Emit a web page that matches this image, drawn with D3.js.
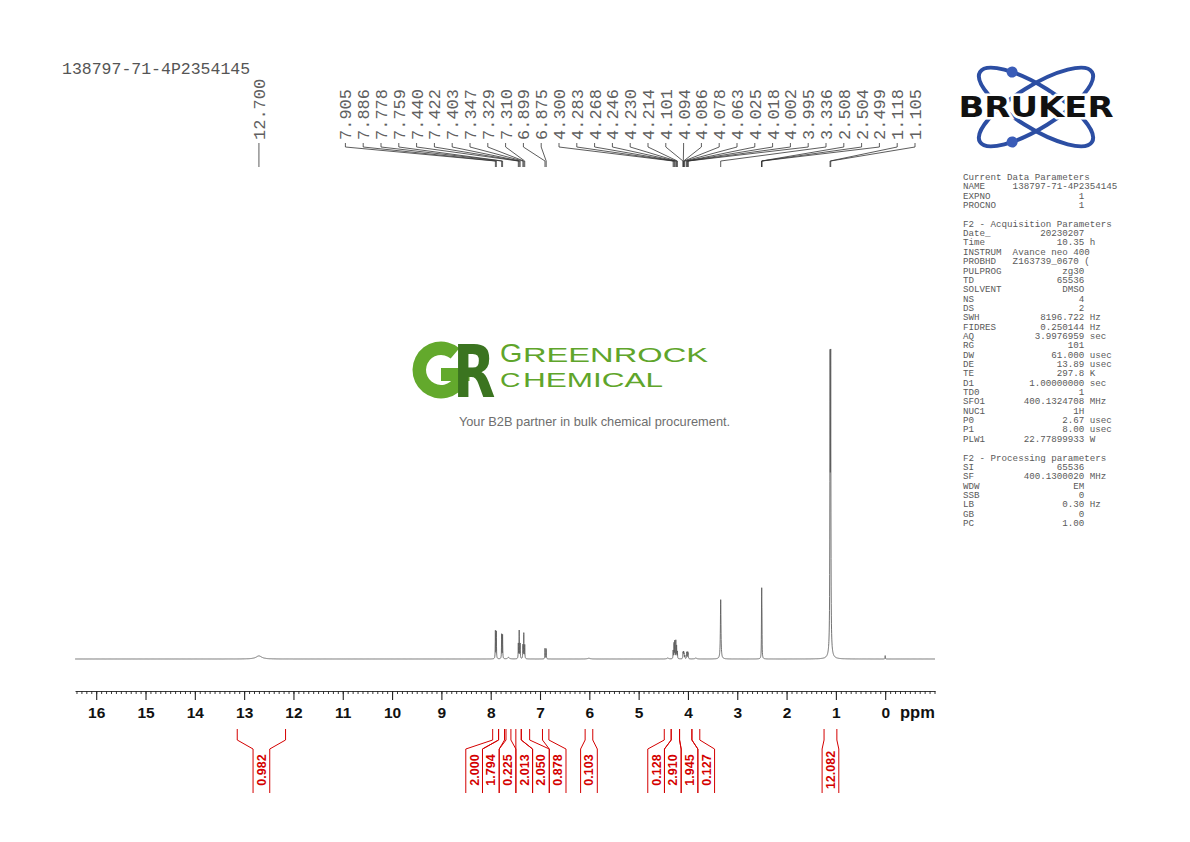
<!DOCTYPE html>
<html>
<head>
<meta charset="utf-8">
<script src="https://cdn.jsdelivr.net/npm/d3@7"></script>
<style>
  body { margin: 0; background: #fff; }
  svg { display: block; }
</style>
</head>
<body>
<div id="chart"></div>
<script>
let width = 1190;
let height = 842;

let sampleName = "138797-71-4P2354145";

// picked peaks (ppm), heights relative to the 1.1 ppm doublet (~100), half widths (ppm)
let peakShifts = [12.700, 7.905, 7.886, 7.778, 7.759, 7.440, 7.422, 7.403, 7.347, 7.329, 7.310, 6.899, 6.875,
                  4.300, 4.283, 4.268, 4.246, 4.230, 4.214, 4.101, 4.094, 4.086, 4.078, 4.063,
                  4.025, 4.018, 4.002, 3.995, 3.336, 2.508, 2.504, 2.499, 1.118, 1.105];
let peakHeights = [1.0, 9.0, 8.8, 7.9, 7.7, 4.8, 9.0, 4.8, 4.4, 8.2, 4.4, 3.4, 3.3,
                   2.6, 4.9, 5.6, 5.8, 4.1, 2.3, 1.6, 1.8, 1.8, 1.5, 1.1,
                   1.7, 1.9, 1.9, 1.5, 19.2, 10.5, 16.5, 10.5, 88, 88];
let peakWidths = [0.07, 0.0035, 0.0035, 0.0035, 0.0035, 0.0035, 0.0035, 0.0035, 0.0035, 0.0035, 0.0035, 0.0035, 0.0035,
                  0.0035, 0.0035, 0.0035, 0.0035, 0.0035, 0.0035, 0.0035, 0.0035, 0.0035, 0.0035, 0.0035,
                  0.0035, 0.0035, 0.0035, 0.0035, 0.007, 0.003, 0.003, 0.003, 0.0045, 0.0045];

// small unpicked signals
let minorShifts = [7.64, 6.01, 4.41, 3.84, 1.11, 0.00];
let minorHeights = [0.5, 0.25, 0.3, 0.3, 3.0, 1.1];
let minorWidths = [0.02, 0.03, 0.02, 0.02, 0.03, 0.003];

// integrals
let integralValues = ["0.982", "2.000", "1.794", "0.225", "2.013", "2.050", "0.878", "0.103",
                      "0.128", "2.910", "1.945", "0.127", "12.082"];
let integralFrom = [13.14, 7.96, 7.84, 7.69, 7.49, 7.38, 6.95, 6.085, 4.48, 4.34, 4.17, 3.92, 1.24];
let integralTo   = [12.16, 7.84, 7.72, 7.59, 7.38, 7.21, 6.82, 5.93, 4.34, 4.17, 3.92, 3.76, 0.98];

let axisTicks = d3.range(0, 17);

let paramBlocks = [
    ["Current Data Parameters", [["NAME", sampleName], ["EXPNO", "1"], ["PROCNO", "1"]]],
    ["F2 - Acquisition Parameters", [
        ["Date_", "20230207"], ["Time", "10.35", "h"], ["INSTRUM", "Avance neo 400"],
        ["PROBHD", "Z163739_0670 ("], ["PULPROG", "zg30"], ["TD", "65536"], ["SOLVENT", "DMSO"],
        ["NS", "4"], ["DS", "2"], ["SWH", "8196.722", "Hz"], ["FIDRES", "0.250144", "Hz"],
        ["AQ", "3.9976959", "sec"], ["RG", "101"], ["DW", "61.000", "usec"], ["DE", "13.89", "usec"],
        ["TE", "297.8", "K"], ["D1", "1.00000000", "sec"], ["TD0", "1"], ["SFO1", "400.1324708", "MHz"],
        ["NUC1", "1H"], ["P0", "2.67", "usec"], ["P1", "8.00", "usec"], ["PLW1", "22.77899933", "W"]]],
    ["F2 - Processing parameters", [
        ["SI", "65536"], ["SF", "400.1300020", "MHz"], ["WDW", "EM"], ["SSB", "0"],
        ["LB", "0.30", "Hz"], ["GB", "0"], ["PC", "1.00"]]]
];

let svg = d3.select("#chart")
    .append("svg")
    .attr("width", width)
    .attr("height", height);

let xScale = d3.scaleLinear()
                .domain([16.43, -1.01])
                .range([75, 935]);
let yScale = d3.scaleLinear()
                .domain([0, 100])
                .range([659, 350]);

// spread labels that collide into evenly spaced groups
let layoutColumns = (centers, gap, maxX) => {
    let order = d3.range(centers.length).sort((a, b) => centers[a] - centers[b]);
    let groups = order.map((k) => ({ idx: [k], mean: centers[k] }));
    let merged = true;
    while (merged) {
        merged = false;
        for (let i = 0; i < groups.length - 1; i++) {
            let a = groups[i], b = groups[i + 1];
            if (a.mean + a.idx.length * gap / 2 > b.mean - b.idx.length * gap / 2) {
                let idx = a.idx.concat(b.idx);
                groups.splice(i, 2, { idx: idx, mean: d3.mean(idx, (k) => centers[k]) });
                merged = true;
                break;
            }
        }
    }
    let pos = [];
    groups.forEach((g) => {
        let half = (g.idx.length - 1) / 2 * gap;
        let m = Math.min(g.mean, maxX - half);
        g.idx.forEach((k, j) => pos[k] = m - half + j * gap);
    });
    return pos;
};

// title
svg.append("text")
    .attr("x", 62)
    .attr("y", 74)
    .attr("font-family", "Liberation Mono, monospace")
    .attr("font-size", 16.5)
    .attr("fill", "#555")
    .text(sampleName);

// spectrum
let allShifts = peakShifts.concat(minorShifts);
let allHeights = peakHeights.concat(minorHeights);
let allWidths = peakWidths.concat(minorWidths);
let grid = d3.range(-1.01, 16.43, 0.002).concat(allShifts).sort(d3.ascending);
let spectrum = grid.map((p) => {
    let v = 0;
    for (let i = 0; i < allShifts.length; i++) {
        let u = (p - allShifts[i]) / allWidths[i];
        v += allHeights[i] / (1 + u * u);
    }
    return { ppm: p, val: v };
});

let lineGenerator = d3.line()
                        .x((d) => xScale(d.ppm))
                        .y((d) => yScale(d.val));

svg.append("path")
    .datum(spectrum)
    .attr("fill", "none")
    .attr("stroke", "#5a5a5a")
    .attr("stroke-width", 0.85)
    .attr("d", lineGenerator);

// peak labels
let labelX = layoutColumns(peakShifts.map((p) => xScale(p)), 17.8, 915);
let peakG = svg.append("g");
peakShifts.forEach((p, i) => {
    let xl = labelX[i], xp = xScale(p);
    peakG.append("text")
        .attr("transform", `translate(${xl},140) rotate(-90)`)
        .attr("dy", "0.35em")
        .attr("font-family", "Liberation Mono, monospace")
        .attr("font-size", 17)
        .attr("fill", "#606060")
        .text(p.toFixed(3));
    peakG.append("path")
        .attr("d", `M${xl},143V147L${xp},161V167`)
        .attr("fill", "none")
        .attr("stroke", "#333")
        .attr("stroke-width", 0.8);
});

// axis
let majorAxis = d3.axisBottom(xScale)
                    .tickValues(axisTicks)
                    .tickSize(9)
                    .tickSizeOuter(0)
                    .tickPadding(7)
                    .tickFormat(d3.format("d"));
let minorAxis = d3.axisBottom(xScale)
                    .tickValues(d3.range(-10, 165).map((d) => d / 10))
                    .tickSize(3)
                    .tickSizeOuter(0)
                    .tickFormat("");

svg.append("g")
    .attr("transform", "translate(0,691)")
    .call(minorAxis)
    .call((g) => g.selectAll("line,path").attr("stroke", "#222").attr("stroke-width", 0.9));

svg.append("g")
    .attr("transform", "translate(0,691)")
    .call(majorAxis)
    .call((g) => g.select(".domain").remove())
    .call((g) => g.selectAll("line").attr("stroke", "#222").attr("stroke-width", 1.1))
    .call((g) => g.selectAll("text")
                    .attr("font-family", "Liberation Sans, Arial, sans-serif")
                    .attr("font-weight", "bold")
                    .attr("font-size", 15.5)
                    .attr("fill", "#111"));

svg.append("text")
    .attr("x", 900)
    .attr("y", 718)
    .attr("font-family", "Liberation Sans, Arial, sans-serif")
    .attr("font-weight", "bold")
    .attr("font-size", 16.5)
    .attr("fill", "#111")
    .text("ppm");

// integrals
let integralMid = integralFrom.map((f, i) => xScale((f + integralTo[i]) / 2));
let colX = layoutColumns(integralMid, 16.7, 2000);
let intG = svg.append("g");
integralValues.forEach((v, i) => {
    let xa = xScale(integralFrom[i]), xb = xScale(integralTo[i]);
    let cl = colX[i] - 8.35, cr = colX[i] + 8.35;
    intG.append("path")
        .attr("d", `M${xa},729V740L${cl},749V793M${xb},729V740L${cr},749V793`)
        .attr("fill", "none")
        .attr("stroke", "#d40000")
        .attr("stroke-width", 1);
    intG.append("text")
        .attr("transform", `translate(${colX[i]},770) rotate(-90)`)
        .attr("dy", "0.36em")
        .attr("text-anchor", "middle")
        .attr("font-family", "Liberation Sans, Arial, sans-serif")
        .attr("font-weight", "bold")
        .attr("font-size", 12.5)
        .attr("fill", "#d40000")
        .text(v);
});

// parameter listing
let paramG = svg.append("g")
    .attr("font-family", "Liberation Mono, monospace")
    .attr("font-size", 9.2)
    .attr("fill", "#5a5a5a");
let row = 0;
paramBlocks.forEach((block) => {
    let lines = [block[0]].concat(block[1].map((r) => {
        let body = r[0].padEnd(9);
        let pad = Math.max(22 - body.length - r[1].length, 0);
        return body + " ".repeat(pad) + r[1] + (r[2] ? " " + r[2] : "");
    }));
    lines.forEach((t) => {
        paramG.append("text")
            .attr("x", 963)
            .attr("y", 180 + row * 9.35)
            .attr("xml:space", "preserve")
            .style("white-space", "pre")
            .text(t);
        row++;
    });
    row++;
});

// Bruker logo
let logo = svg.append("g").attr("transform", "translate(1036,107)");
[32, -32].forEach((a) => {
    logo.append("ellipse")
        .attr("rx", 66)
        .attr("ry", 21)
        .attr("transform", `rotate(${a})`)
        .attr("fill", "none")
        .attr("stroke", "#2c4ea3")
        .attr("stroke-width", 4);
    let t = -126 * Math.PI / 180;
    logo.append("circle")
        .attr("transform", `rotate(${a})`)
        .attr("cx", 66 * Math.cos(t))
        .attr("cy", (a > 0 ? 1 : -1) * 21 * Math.sin(t))
        .attr("r", 5.5)
        .attr("fill", "#3a5cb8");
});
logo.append("text")
    .attr("x", 0)
    .attr("y", 10)
    .attr("text-anchor", "middle")
    .attr("font-family", "DejaVu Sans, sans-serif")
    .attr("font-weight", "bold")
    .attr("font-size", 29)
    .attr("textLength", 155)
    .attr("lengthAdjust", "spacingAndGlyphs")
    .attr("fill", "#111")
    .attr("stroke", "#fff")
    .attr("stroke-width", 5)
    .attr("paint-order", "stroke")
    .text("BRUKER");

// Greenrock watermark
let gr = svg.append("g");
gr.append("path")
    .attr("transform", "translate(441,370)")
    .attr("d", d3.arc().innerRadius(15).outerRadius(28.5).startAngle(Math.PI / 2).endAngle(2 * Math.PI + 0.7)())
    .attr("fill", "#63a92c");
gr.append("rect")
    .attr("x", 441).attr("y", 368)
    .attr("width", 28.5).attr("height", 13)
    .attr("fill", "#63a92c");
gr.append("text")
    .attr("transform", "translate(453,397) scale(0.95,1.25)")
    .attr("font-family", "DejaVu Sans, sans-serif")
    .attr("font-weight", "bold")
    .attr("font-size", 58)
    .attr("fill", "#3b7420")
    .text("R");

// [initial, rest, baseline, initial size, initial stretch, rest size, rest length]
let wordRows = [["G", "REENROCK", 362, 25, 1.15, 19.5, 185], ["C", "HEMICAL", 386.5, 21, 1.35, 19.5, 140]];
wordRows.forEach((w) => {
    gr.append("text")
        .attr("transform", `translate(500,${w[2]}) scale(${w[4]},1)`)
        .attr("font-family", "Liberation Sans, Arial, sans-serif")
        .attr("font-size", w[3])
        .attr("fill", "#5fa52b")
        .text(w[0]);
    gr.append("text")
        .attr("x", 523).attr("y", w[2])
        .attr("font-family", "Liberation Sans, Arial, sans-serif")
        .attr("font-size", w[5])
        .attr("textLength", w[6])
        .attr("lengthAdjust", "spacingAndGlyphs")
        .attr("fill", "#5fa52b")
        .text(w[1]);
});
gr.append("text")
    .attr("x", 594.5)
    .attr("y", 426)
    .attr("text-anchor", "middle")
    .attr("font-family", "Liberation Sans, Arial, sans-serif")
    .attr("font-size", 12.8)
    .attr("fill", "#6e6e6e")
    .text("Your B2B partner in bulk chemical procurement.");
</script>
</body>
</html>
